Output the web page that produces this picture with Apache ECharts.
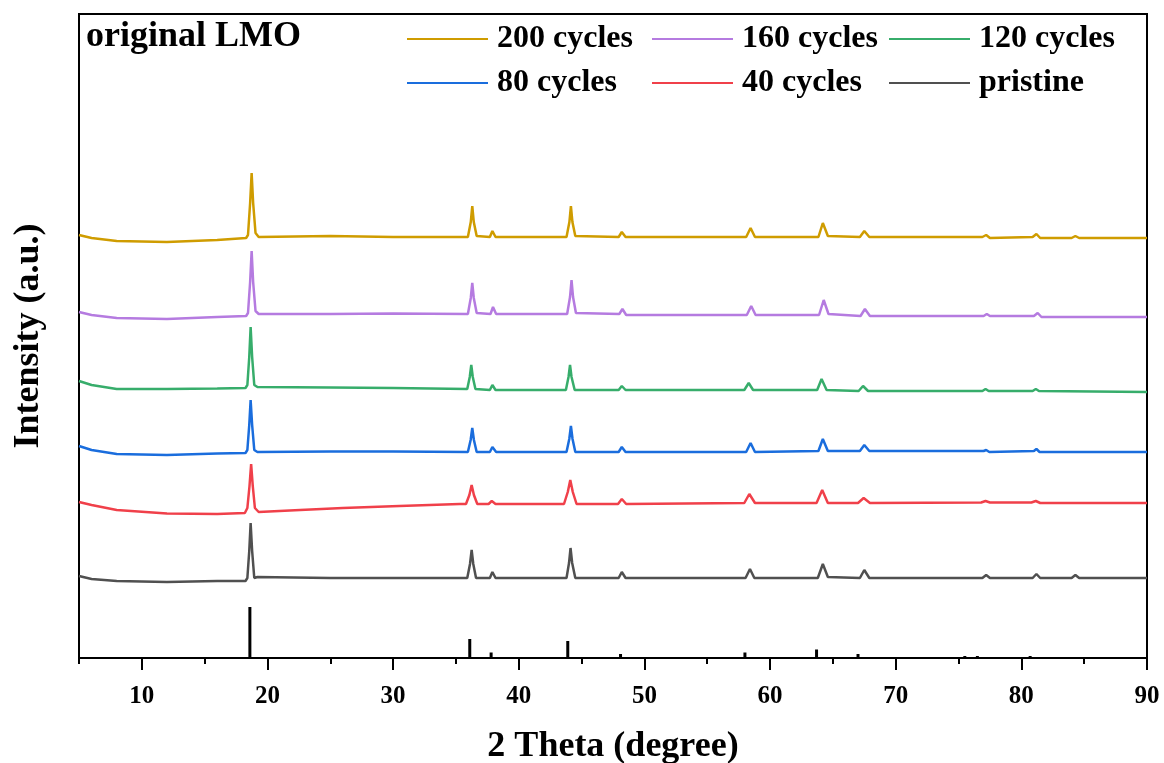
<!DOCTYPE html>
<html>
<head>
<meta charset="utf-8">
<script src="https://cdn.jsdelivr.net/npm/echarts@6/dist/echarts.min.js"></script>
<style>html,body{margin:0;padding:0;background:#fff}#c{width:1164px;height:763px}</style>
</head>
<body>
<div id="c"></div>
<script>
// 2 Theta (degree) vs intensity (a.u., stacked patterns as plotted)
const seriesNames = ['200 cycles', '160 cycles', '120 cycles', '80 cycles', '40 cycles', 'pristine'];
const seriesColors = ['#cf9c00', '#b57be0', '#37ad6b', '#1a6ddd', '#f0404a', '#505050'];

const s200 = [[5,423],[6,420],[8,417],[12,416],[16,418],[18.3,420],[18.45,423],[18.62,455],[18.74,485],[18.86,455],[19.05,425],[19.3,421],[25,422],[30,421],[35.95,421],[36.18,436],[36.3,452],[36.42,436],[36.65,422],[37.7,421],[37.9,427],[38.15,421],[43.8,421],[44.03,436],[44.15,452],[44.27,436],[44.5,422],[47.95,421],[48.2,426],[48.5,421],[58.1,421],[58.45,430],[58.8,421],[63.85,421],[64.2,435],[64.6,422],[67.15,421],[67.5,427],[67.9,421],[76.9,421],[77.2,423],[77.5,420],[80.9,421],[81.2,424],[81.5,420],[84,420],[84.3,422],[84.6,420],[90,420]];
const s160 = [[5,346],[6,343],[8,340],[12,339],[16,341],[18.3,342],[18.45,345],[18.62,376],[18.74,407],[18.86,376],[19.05,347],[19.3,344],[25,344],[30,344.5],[35.95,344],[36.18,360],[36.3,375],[36.42,360],[36.65,345],[37.75,344],[37.95,351],[38.2,344],[43.85,344],[44.08,361],[44.2,378],[44.32,361],[44.55,345],[48.0,344],[48.25,349],[48.55,343],[58.15,343],[58.5,352],[58.85,343],[63.9,343],[64.27,358],[64.65,344],[67.2,342],[67.55,349],[67.95,342],[77.0,342],[77.25,344],[77.5,342],[81.0,342],[81.3,345],[81.6,341],[90,341]];
const s120 = [[5,277],[6,273],[8,269],[12,269],[16,269.5],[18.25,270],[18.4,273],[18.55,301],[18.66,331],[18.78,301],[18.95,273],[19.2,271],[25,270.5],[30,270],[35.9,269],[36.1,281],[36.22,293],[36.34,281],[36.55,269],[37.7,268],[37.9,273],[38.15,268],[43.75,268],[43.96,281],[44.08,293],[44.2,281],[44.45,268],[47.95,268],[48.2,272],[48.5,268],[57.95,268],[58.3,275],[58.65,268],[63.75,268],[64.1,279],[64.5,268],[67.05,267],[67.4,272],[67.8,267],[76.9,267],[77.15,269],[77.4,267],[80.9,267],[81.15,269],[81.4,267],[90,266]];
const s80 = [[5,212],[6,208],[8,204],[12,203],[16,204.5],[18.25,205],[18.4,208],[18.55,233],[18.66,258],[18.78,233],[18.95,208],[19.2,206],[25,206.5],[30,206.5],[35.95,206],[36.17,218],[36.3,230],[36.43,218],[36.65,206],[37.7,206],[37.9,211],[38.2,206],[43.8,206],[44.02,219],[44.15,232],[44.28,219],[44.5,206],[47.95,206],[48.2,211],[48.5,206],[58.1,206],[58.45,215],[58.8,206],[63.85,207],[64.2,219],[64.6,207],[67.15,207],[67.5,213],[67.9,207],[77.0,207],[77.2,208],[77.45,206],[81.0,207],[81.2,209],[81.45,206],[90,206]];
const s40 = [[5,156],[6,153],[8,148],[12,144.5],[16,144],[18.2,145],[18.4,150],[18.57,172],[18.7,194],[18.83,172],[19.0,150],[19.3,146],[22.6,148],[26,150],[30.5,152],[35.3,154],[35.8,154],[36.07,163],[36.25,173],[36.43,163],[36.7,154],[37.6,154],[37.85,157],[38.15,154],[43.6,154],[43.9,166],[44.1,178],[44.3,166],[44.6,154],[47.9,154],[48.2,159],[48.55,154],[57.95,155],[58.35,164],[58.8,155],[63.7,155],[64.15,168],[64.6,155],[67.0,155],[67.45,160],[67.95,155],[76.8,155.5],[77.15,157],[77.5,155.5],[80.8,155.5],[81.15,157],[81.5,155],[90,155]];
const sPristine = [[5,82],[6,79],[8,77],[12,76],[16,77],[18.25,77],[18.4,80],[18.55,107],[18.66,135],[18.78,107],[18.95,80],[19.2,81],[25,80],[30,80],[35.9,80],[36.12,94],[36.25,108],[36.38,94],[36.6,80],[37.7,80],[37.9,86],[38.15,80],[43.8,80],[44.0,95],[44.12,110],[44.25,95],[44.5,80],[47.95,80],[48.2,86],[48.5,80],[58.05,80],[58.4,89],[58.75,80],[63.8,80],[64.2,94],[64.6,81],[67.15,80],[67.5,88],[67.9,80],[76.9,80],[77.2,83],[77.5,80],[80.9,80],[81.2,84],[81.5,80],[84.0,80],[84.3,83],[84.6,80],[90,80]];

// standard reference pattern (sticks)
const refPos = [18.6, 36.1, 37.8, 43.9, 48.1, 58.0, 63.7, 67.0, 75.5, 76.5, 80.7];
const refInt = [51, 19, 5.5, 17, 4, 5.5, 8.5, 4, 2, 2, 2];

const majorTicks = [10, 20, 30, 40, 50, 60, 70, 80, 90];
const minorTicks = [5, 15, 25, 35, 45, 55, 65, 75, 85];

const allData = [s200, s160, s120, s80, s40, sPristine];
const FONT = "'Liberation Serif', 'Times New Roman', serif";

const chart = echarts.init(document.getElementById('c'));

const lineSeries = seriesNames.map((n, i) => ({
  name: n, type: 'line', data: allData[i], symbol: 'none', showSymbol: false,
  lineStyle: { color: seriesColors[i], width: 2.5 }, itemStyle: { color: seriesColors[i] },
  xAxisIndex: 0, yAxisIndex: 0, z: 3
}));

const legendPos = [[407, 23], [652, 23], [889, 23], [407, 67], [652, 67], [889, 67]];
const legends = seriesNames.map((n, i) => ({
  data: [{ name: n, icon: 'rect' }], left: legendPos[i][0], top: legendPos[i][1], padding: 0,
  itemWidth: 81, itemHeight: 2, orient: 'horizontal', selectedMode: false,
  itemStyle: { color: seriesColors[i] },
  textStyle: { fontFamily: FONT, fontWeight: 'bold', fontSize: 32, color: '#000', padding: [0, 0, 0, 4] }
}));

chart.setOption({
  animation: false,
  backgroundColor: '#fff',
  title: { text: 'original LMO', left: 86, top: 19, padding: 0,
    textStyle: { fontFamily: FONT, fontWeight: 'bold', fontSize: 36, color: '#000' } },
  legend: legends,
  grid: { left: 79, right: 17, top: 14, bottom: 105, show: true, borderColor: '#000', borderWidth: 2,
    containLabel: false, outerBoundsMode: 'none' },
  xAxis: [{
    type: 'value', min: 5, max: 90, position: 'bottom',
    name: '2 Theta (degree)', nameLocation: 'middle', nameGap: 71,
    nameTextStyle: { fontFamily: FONT, fontWeight: 'bold', fontSize: 36, color: '#000' },
    axisLine: { show: true, lineStyle: { color: '#000', width: 2 } },
    axisTick: { show: true, customValues: majorTicks, length: 12, lineStyle: { color: '#000', width: 2 } },
    axisLabel: { customValues: majorTicks, margin: 26, fontFamily: FONT, fontWeight: 'bold', fontSize: 25, color: '#000' },
    splitLine: { show: false }
  }, {
    type: 'value', min: 5, max: 90, position: 'bottom', gridIndex: 0,
    axisLine: { show: false },
    axisTick: { show: true, customValues: minorTicks, length: 6, lineStyle: { color: '#000', width: 2 } },
    axisLabel: { show: false }, splitLine: { show: false }
  }],
  yAxis: {
    type: 'value', min: 0, max: 644,
    name: 'Intensity (a.u.)', nameLocation: 'middle', nameGap: 32, nameRotate: 90,
    nameTextStyle: { fontFamily: FONT, fontWeight: 'bold', fontSize: 36, color: '#000' },
    axisLine: { show: true, lineStyle: { color: '#000', width: 2 } },
    axisTick: { show: false }, axisLabel: { show: false }, splitLine: { show: false }
  },
  series: lineSeries.concat([{
    name: 'reference', type: 'bar', barWidth: 3, xAxisIndex: 0, yAxisIndex: 0,
    data: refPos.map((p, i) => [p, refInt[i]]),
    itemStyle: { color: '#000' }, z: 2
  }])
});
</script>
</body>
</html>
